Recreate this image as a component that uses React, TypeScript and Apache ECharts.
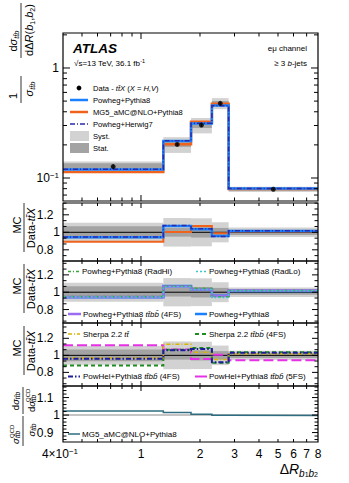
import React, { useEffect, useRef } from 'react';
import * as echarts from 'echarts';

const FONT = '"Liberation Sans", Arial, Helvetica, sans-serif';

// ---- data ----
const binEdges = [0.4, 1.3, 1.8, 2.3, 2.8, 8];
const dataXsec = [0.127, 0.202, 0.303, 0.477, 0.079];
const statRel = [0.07, 0.05, 0.06, 0.05, 0.03];
const systRel = [0.11, 0.163, 0.16, 0.115, 0.055];

const powhegPythia8 = [0.943, 1.072, 1.034, 0.958, 1.015];
const mg5Pythia8 = [0.893, 1.004, 1.072, 0.99, 1.008];
const powhegHerwig7 = [0.947, 1.078, 1.04, 0.953, 1.018];

const radHi = [0.95, 1.07, 1.045, 0.948, 1.02];
const radLo = [0.945, 1.062, 1.03, 0.94, 1.018];
const powhegTtbb4FS = [0.945, 1.065, 1.035, 0.955, 1.02];

const sherpaTt = [0.97, 1.13, 1.035, 0.95, 1.02];
const sherpaTtbb4FS = [0.88, 1.066, 1.087, 0.912, 1.035];
const powhelTtbb4FS = [0.96, 1.06, 1.075, 0.918, 1.03];
const powhelTtbb5FS = [1.118, 1.07, 0.958, 1.008, 0.941];

const qcdRatio = [1.023, 1.014, 1.005, 0.999, 0.997];

// ---- ticks & labels ----
const xMajorTicks = [1];
const xMinorTicks = [0.5, 0.6, 0.7, 0.8, 0.9, 2, 3, 4, 5, 6, 7];
const xTickValues = [0.4, 1, 2, 3, 4, 5, 6, 7, 8];
const xTickLabels = ['{n|4×10}{p|−1}', '{n|1}', '{n|2}', '{n|3}', '{n|4}', '{n|5}', '{n|6}', '{n|7}', '{n|8}'];
const mainYMajor = [0.1, 1];
const mainYMinor = [0.07, 0.08, 0.09, 0.2, 0.3, 0.4, 0.5, 0.6, 0.7, 0.8, 0.9, 2];
const mainYLabelValues = [0.1, 1];
const mainYLabels = ['{n|10}{p|−1}', '{n|1}'];
const ratioYMajor = [0.8, 1, 1.2];
const ratioYMinor = [0.6667, 0.7333, 0.8667, 0.9333, 1.0667, 1.1333, 1.2667, 1.3333];
const ratioYLabels = ['0.8', '1', '1.2'];
const qcdYMajor = [0.9, 1, 1.1];
const qcdYMinor = [0.86, 0.88, 0.92, 0.94, 0.96, 0.98, 1.02, 1.04, 1.06, 1.08, 1.12, 1.14, 1.16];
const qcdYLabels = ['0.9', '1', '1.1'];

// ---- layout ----
const X_MIN = 0.4;
const X_MAX = 8;
const panelY = [
  { min: 0.0618, max: 2.08 },
  { min: 0.672, max: 1.335 },
  { min: 0.645, max: 1.36 },
  { min: 0.64, max: 1.38 },
  { min: 0.846, max: 1.166 },
];
const panelBox = [
  { top: 33, height: 168 },
  { top: 203, height: 58 },
  { top: 261, height: 62 },
  { top: 323, height: 63 },
  { top: 386, height: 56 },
];

const BLUE = '#1a80ff';
const ORANGE = '#f0631c';
const NAVY = '#2a2aa8';
const LIGHT = '#d2d2d2';
const DARK = '#a3a3a3';

function rs(size: number, italic = false, va = 'middle', lh?: number, weight = 'normal') {
  return {
    fontSize: size, fontFamily: FONT, fontStyle: italic ? 'italic' : 'normal', fontWeight: weight,
    verticalAlign: va, lineHeight: lh ?? size, fill: '#000',
  };
}

function steps(vals: number[], base?: number[]) {
  const out: number[][] = [];
  vals.forEach((v, i) => {
    const y = base ? v * base[i] : v;
    out.push([binEdges[i], y], [binEdges[i + 1], y]);
  });
  return out;
}

function stepLine(k: number, vals: number[], color: string, width: number, type: any, z: number, base?: number[]) {
  return {
    type: 'line', xAxisIndex: k, yAxisIndex: k, data: steps(vals, base), symbol: 'none', showSymbol: false,
    silent: true, z, clip: true, lineStyle: { color, width, type, cap: 'butt', join: 'miter' },
  };
}

function band(k: number, rel: number[], color: string, z: number, base?: number[]) {
  const data = rel.map((r, i) => {
    const c = base ? base[i] : 1;
    return [binEdges[i], binEdges[i + 1], c * (1 - r), c * (1 + r)];
  });
  return {
    type: 'custom', xAxisIndex: k, yAxisIndex: k, silent: true, z, clip: true,
    encode: { x: [0, 1], y: [2, 3] }, data,
    renderItem: (_p: any, api: any) => {
      const a = api.coord([api.value(0), api.value(3)]);
      const b = api.coord([api.value(1), api.value(2)]);
      return { type: 'rect', shape: { x: a[0], y: a[1], width: b[0] - a[0], height: b[1] - a[1] }, style: { fill: color } };
    },
  };
}

function unity(k: number, color: string, width: number, z: number) {
  return {
    type: 'line', xAxisIndex: k, yAxisIndex: k, data: [[X_MIN, 1], [X_MAX, 1]], symbol: 'none',
    silent: true, z, lineStyle: { color, width },
  };
}

function frame(k: number, yMaj: number[], yMin: number[], yLabVals: number[], yLabs: string[], o: any) {
  const yr = panelY[k];
  return {
    type: 'custom', xAxisIndex: k, yAxisIndex: k, silent: true, z: 50, clip: false, data: [[1, 1]],
    renderItem: (_p: any, api: any) => {
      const ch: any[] = [];
      const c = (x: number, y: number) => api.coord([x, y]);
      const [L, B] = c(X_MIN, yr.min);
      const [R, T] = c(X_MAX, yr.max);
      const ln = (x1: number, y1: number, x2: number, y2: number) =>
        ch.push({ type: 'line', shape: { x1, y1, x2, y2 }, style: { stroke: '#000', lineWidth: 1 } });
      xMajorTicks.forEach((v) => { const x = c(v, yr.min)[0]; ln(x, B, x, B - o.xMaj); ln(x, T, x, T + o.xMaj); });
      xMinorTicks.forEach((v) => { const x = c(v, yr.min)[0]; ln(x, B, x, B - o.xMin); ln(x, T, x, T + o.xMin); });
      yMaj.forEach((v) => { if (v < yr.min || v > yr.max) return; const y = c(X_MIN, v)[1]; ln(L, y, L + o.yMaj, y); ln(R, y, R - o.yMaj, y); });
      yMin.forEach((v) => { if (v < yr.min || v > yr.max) return; const y = c(X_MIN, v)[1]; ln(L, y, L + o.yMin, y); ln(R, y, R - o.yMin, y); });
      yLabVals.forEach((v, i) => {
        const y = c(X_MIN, v)[1];
        const t = yLabs[i];
        const right = o.main ? L - 4 : (t.indexOf('.') >= 0 ? L - 9.5 : L - 3);
        ch.push({
          type: 'text', x: right, y,
          style: {
            text: o.main ? t : `{n|${t}}`, rich: { n: rs(12, false, 'middle', 14), p: rs(8, false, 'top', 8) },
            align: 'right', verticalAlign: 'middle', textAlign: 'right', textVerticalAlign: 'middle', fill: '#000',
          },
        });
      });
      if (o.xLabels) {
        xTickValues.forEach((v, i) => {
          const x = c(v, yr.min)[0];
          ch.push({
            type: 'text', x: i === 0 ? x - 3 : x, y: B + 12,
            style: {
              text: xTickLabels[i], rich: { n: rs(12, false, 'middle', 14), p: rs(8, false, 'top', 8) },
              align: 'center', verticalAlign: 'middle', textAlign: 'center', textVerticalAlign: 'middle', fill: '#000',
            },
          });
        });
      }
      ch.push({ type: 'rect', shape: { x: L, y: T, width: R - L, height: B - T }, style: { fill: 'none', stroke: '#000', lineWidth: 1.2 } });
      return { type: 'group', children: ch };
    },
  };
}

const centers = binEdges.slice(0, -1).map((e, i) => Math.sqrt(e * binEdges[i + 1]));

function gText(x: number, y: number, text: string, rich: any, align = 'left', rot = 0) {
  return {
    type: 'text', x, y, rotation: rot, z: 100, silent: true,
    style: {
      text, rich, align, verticalAlign: 'middle', textAlign: align, textVerticalAlign: 'middle',
      fill: '#000', fontFamily: FONT, fontSize: 10,
    },
  };
}
function gLine(x1: number, y1: number, x2: number, y2: number, color: string, width: number, dash?: any) {
  return {
    type: 'line', z: 100, silent: true, shape: { x1, y1, x2, y2 },
    style: { stroke: color, lineWidth: width, lineDash: dash || null },
  };
}

const R90 = Math.PI / 2;
const titleRich = {
  a: rs(11, false, 'middle', 14),
  i: rs(11, true, 'middle', 14),
  s: rs(7.5, true, 'bottom', 7.5),
  n: rs(7, false, 'bottom', 7),
  p: rs(7, false, 'top', 7),
};
const legRich = {
  r: rs(8, false, 'middle', 10),
  i: rs(8, true, 'middle', 10),
};
const mainLegRich = {
  r: rs(7.6, false, 'middle', 10),
  i: rs(7.6, true, 'middle', 10),
};

function buildGraphic() {
  const g: any[] = [];
  // main y title
  g.push(gText(13, 96, '{a|1}', titleRich, 'center', R90));
  g.push(gLine(21, 76, 21, 103, '#000', 0.8));
  g.push(gText(29, 89, '{i|σ}{s|tt̄b}', titleRich, 'center', R90));
  g.push(gText(13, 41, '{a|d}{i|σ}{s|tt̄b}', titleRich, 'center', R90));
  g.push(gLine(21, 3, 21, 58, '#000', 0.8));
  g.push(gText(29, 30, '{a|dΔ}{i|R}{a|(}{i|b}{n|1}{a|,}{i|b}{n|2}{a|)}', titleRich, 'center', R90));
  // ratio titles
  [228, 289, 351].forEach((cy) => {
    g.push(gText(17, cy - 3, '{a|MC}', titleRich, 'center', R90));
    g.push(gLine(24, cy - 25, 24, cy + 24, '#000', 0.8));
    g.push(gText(31, cy, '{a|Data-}{i|tt̄X}', titleRich, 'center', R90));
  });
  // qcd panel title
  const qr = {
    a: rs(9.5, false, 'middle', 12), i: rs(9.5, true, 'middle', 12), s: rs(6.5, true, 'bottom', 6.5), p: rs(6, false, 'top', 6),
  };
  g.push(gText(15, 401, '{a|d}{i|σ}{s|tt̄b}', qr, 'center', R90));
  g.push(gLine(23, 387, 23, 414, '#000', 0.8));
  g.push(gText(31, 412, '{a|d}{i|σ}', qr, 'left', R90));
  g.push(gText(28, 402, '{p|QCD}', qr, 'left', R90));
  g.push(gText(34, 402, '{s|tt̄b}', qr, 'left', R90));
  g.push(gText(15, 444, '{i|σ}', qr, 'left', R90));
  g.push(gText(12, 438, '{p|QCD}', qr, 'left', R90));
  g.push(gText(18, 438, '{s|tt̄b}', qr, 'left', R90));
  g.push(gLine(23, 416, 23, 446, '#000', 0.8));
  g.push(gText(31, 430, '{i|σ}{s|tt̄b}', qr, 'center', R90));
  // x title
  g.push(gText(318, 469, '{a|Δ}{i|R}{s|b}{n|1}{s|b}{n|2}', {
    a: rs(14, false, 'middle', 18), i: rs(14, true, 'middle', 18), s: rs(10, true, 'bottom', 10), n: rs(7, false, 'bottom', 6),
  }, 'right'));

  // ATLAS labels
  g.push(gText(73, 48, '{b|ATLAS}', { b: rs(13.5, true, 'middle', 16, 'bold') }));
  g.push(gText(74, 63, '{r|√s=13 TeV, 36.1 fb}{p|-1}', { r: rs(8, false, 'middle', 11), p: rs(5.5, false, 'top', 5.5) }));
  g.push(gText(307, 48, '{r|eμ channel}', legRich, 'right'));
  g.push(gText(307, 63, '{r|≥ 3 }{i|b}{r|-jets}', legRich, 'right'));

  // main legend
  const lx0 = 70, lx1 = 88, tx = 93;
  g.push({ type: 'circle', z: 100, silent: true, shape: { cx: 79, cy: 88, r: 2.4 }, style: { fill: '#000' } });
  g.push(gText(tx, 88, '{r|Data - }{i|tt̄X}{r| (}{i|X}{r| = }{i|H,V}{r|)}', mainLegRich));
  g.push(gLine(lx0, 100, lx1, 100, BLUE, 2.5));
  g.push(gText(tx, 100, '{r|Powheg+Pythia8}', mainLegRich));
  g.push(gLine(lx0, 112, lx1, 112, ORANGE, 2.5));
  g.push(gText(tx, 112, '{r|MG5_aMC@NLO+Pythia8}', mainLegRich));
  g.push(gLine(lx0, 124, lx1, 124, NAVY, 1.5, [5, 2, 1, 2]));
  g.push(gText(tx, 124, '{r|Powheg+Herwig7}', mainLegRich));
  g.push({ type: 'rect', z: 100, silent: true, shape: { x: 70, y: 131, width: 19, height: 10 }, style: { fill: LIGHT } });
  g.push(gText(tx, 136, '{r|Syst.}', mainLegRich));
  g.push({ type: 'rect', z: 100, silent: true, shape: { x: 70, y: 143, width: 19, height: 10 }, style: { fill: DARK } });
  g.push(gText(tx, 148, '{r|Stat.}', mainLegRich));

  // panel 2 legend
  g.push(gLine(68, 271.5, 80, 271.5, '#3aa63a', 1.5, [3, 2, 1, 2]));
  g.push(gText(82, 271.5, '{r|Powheg+Pythia8 (RadHi)}', legRich));
  g.push(gLine(196, 271.5, 207, 271.5, '#3cc8c8', 1.5, [2, 2]));
  g.push(gText(209, 271.5, '{r|Powheg+Pythia8 (RadLo)}', legRich));
  g.push(gLine(68, 314, 81, 314, '#9a6cf0', 2.5));
  g.push(gText(83, 314, '{r|Powheg+Pythia8 }{i|tt̄bb̄}{r| (4FS)}', legRich));
  g.push(gLine(195, 314, 207, 314, BLUE, 2.5));
  g.push(gText(209, 314, '{r|Powheg+Pythia8}', legRich));

  // panel 3 legend
  g.push(gLine(68, 334, 80, 334, '#d9b400', 1.5, [4, 2, 1, 2]));
  g.push(gText(83, 334, '{r|Sherpa 2.2 }{i|tt̄}', legRich));
  g.push(gLine(195, 334, 206, 334, '#1e8c1e', 2, [4, 3]));
  g.push(gText(209, 334, '{r|Sherpa 2.2 }{i|tt̄bb̄}{r| (4FS)}', legRich));
  g.push(gLine(68, 376.5, 80, 376.5, '#1c1c9c', 2, [5, 2, 1.5, 2]));
  g.push(gText(83, 376.5, '{r|PowHel+Pythia8 }{i|tt̄bb̄}{r| (4FS)}', legRich));
  g.push(gLine(195, 376.5, 207, 376.5, '#e631e6', 2));
  g.push(gText(209, 376.5, '{r|PowHel+Pythia8 }{i|tt̄bb̄}{r| (5FS)}', legRich));

  // panel 4 legend
  g.push(gLine(68, 434, 80, 434, '#2f6d80', 1.5));
  g.push(gText(82, 434, '{r|MG5_aMC@NLO+Pythia8}', legRich));
  return g;
}

function buildOption() {
  const rOpts = { xMaj: 5, xMin: 3, yMaj: 6, yMin: 3.5 };
  const series: any[] = [
    // main panel
    band(0, systRel, LIGHT, 1, dataXsec),
    band(0, statRel, DARK, 2, dataXsec),
    stepLine(0, mg5Pythia8, ORANGE, 2.5, 'solid', 4, dataXsec),
    stepLine(0, powhegPythia8, BLUE, 2.5, 'solid', 5, dataXsec),
    stepLine(0, powhegHerwig7, NAVY, 1.5, [5, 2, 1, 2], 6, dataXsec),
    {
      type: 'custom', xAxisIndex: 0, yAxisIndex: 0, silent: true, z: 7,
      encode: { x: 0, y: [1, 2] },
      data: centers.map((c, i) => [c, dataXsec[i] * (1 - statRel[i] * 0.6), dataXsec[i] * (1 + statRel[i] * 0.6)]),
      renderItem: (_p: any, api: any) => {
        const a = api.coord([api.value(0), api.value(1)]);
        const b = api.coord([api.value(0), api.value(2)]);
        return { type: 'line', shape: { x1: a[0], y1: a[1], x2: b[0], y2: b[1] }, style: { stroke: '#000', lineWidth: 1 } };
      },
    },
    {
      type: 'scatter', xAxisIndex: 0, yAxisIndex: 0, silent: true, z: 8, symbol: 'circle', symbolSize: 5,
      itemStyle: { color: '#000' }, data: centers.map((c, i) => [c, dataXsec[i]]),
    },
    frame(0, mainYMajor, mainYMinor, mainYLabelValues, mainYLabels, { xMaj: 6, xMin: 3.5, yMaj: 7, yMin: 4, main: true }),

    // ratio panel 1
    band(1, systRel, LIGHT, 1),
    band(1, statRel, DARK, 2),
    unity(1, '#000', 1, 3),
    stepLine(1, mg5Pythia8, ORANGE, 2, 'solid', 4),
    stepLine(1, powhegPythia8, BLUE, 2.5, 'solid', 5),
    stepLine(1, powhegHerwig7, NAVY, 1.5, [5, 2, 1, 2], 6),
    frame(1, ratioYMajor, ratioYMinor, ratioYMajor, ratioYLabels, rOpts),

    // ratio panel 2
    band(2, systRel, LIGHT, 1),
    band(2, statRel, DARK, 2),
    unity(2, '#000', 1, 3),
    stepLine(2, powhegPythia8, BLUE, 2.5, 'solid', 4),
    stepLine(2, powhegTtbb4FS, '#9a6cf0', 2.5, 'solid', 5),
    stepLine(2, radHi, '#3aa63a', 1.5, [3, 2, 1, 2], 6),
    stepLine(2, radLo, '#3cc8c8', 1.5, [2, 2], 7),
    frame(2, ratioYMajor, ratioYMinor, ratioYMajor, ratioYLabels, rOpts),

    // ratio panel 3
    band(3, systRel, LIGHT, 1),
    band(3, statRel, DARK, 2),
    unity(3, '#000', 1, 3),
    stepLine(3, powhelTtbb5FS, '#e631e6', 2, [10, 4], 4),
    stepLine(3, sherpaTtbb4FS, '#1e8c1e', 2, [4, 3], 5),
    stepLine(3, sherpaTt, '#d9b400', 1.5, [4, 2, 1, 2], 6),
    stepLine(3, powhelTtbb4FS, '#1c1c9c', 2, [5, 2, 1.5, 2], 7),
    frame(3, ratioYMajor, ratioYMinor, ratioYMajor, ratioYLabels, rOpts),

    // qcd panel
    unity(4, '#c4c4c4', 2, 2),
    stepLine(4, qcdRatio, '#2f6d80', 1.5, 'solid', 4),
    frame(4, qcdYMajor, qcdYMinor, qcdYMajor, qcdYLabels, { ...rOpts, xLabels: true }),
  ];

  return {
    animation: false,
    textStyle: { fontFamily: FONT },
    grid: panelBox.map((b) => ({ left: 63, width: 255, top: b.top, height: b.height, show: false })),
    xAxis: panelBox.map((_, k) => ({ type: 'log', logBase: 10, gridIndex: k, min: X_MIN, max: X_MAX, show: false })),
    yAxis: panelY.map((r, k) => (k === 0
      ? { type: 'log', logBase: 10, gridIndex: k, min: r.min, max: r.max, show: false }
      : { type: 'value', gridIndex: k, min: r.min, max: r.max, show: false })),
    series,
    graphic: { elements: buildGraphic() },
  };
}

export default function App() {
  const ref = useRef<HTMLDivElement>(null);
  useEffect(() => {
    const chart = echarts.init(ref.current!, null, { renderer: 'svg' });
    chart.setOption(buildOption() as any);
    return () => chart.dispose();
  }, []);
  return <div ref={ref} style={{ position: 'absolute', left: 0, top: 0, width: 349, height: 483 }} />;
}
